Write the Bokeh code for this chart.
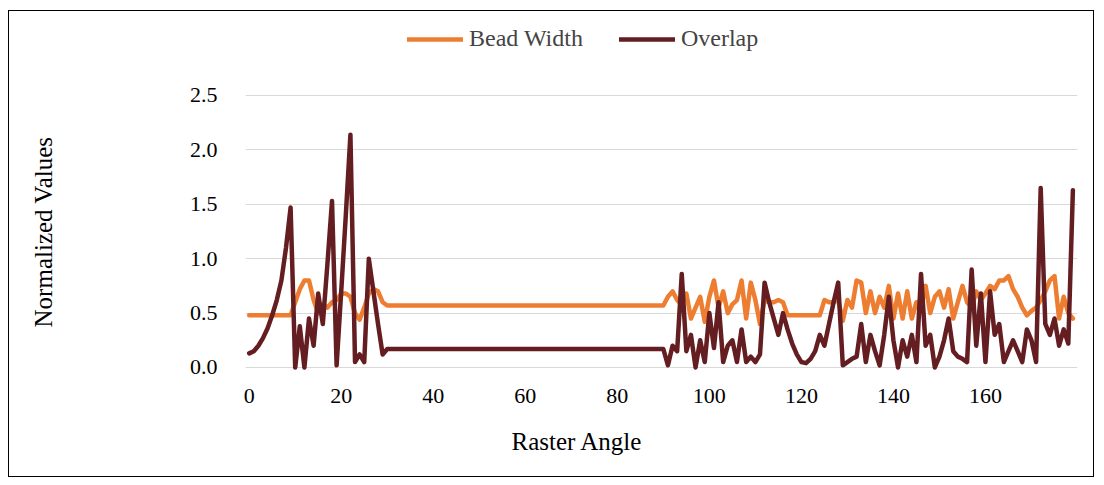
from bokeh.plotting import figure
from bokeh.models import Range1d, FixedTicker, Legend, LegendItem, NumeralTickFormatter, ColumnDataSource
from bokeh.embed import file_html
from bokeh.resources import INLINE

raster_angle = list(range(180))

bead_width = [
    0.48, 0.48, 0.48, 0.48, 0.48, 0.48, 0.48, 0.48, 0.48, 0.48,
    0.60, 0.72, 0.80, 0.80, 0.62, 0.50, 0.58, 0.55, 0.60, 0.62,
    0.68, 0.68, 0.65, 0.50, 0.44, 0.55, 0.68, 0.72, 0.70, 0.60,
    0.57, 0.57, 0.57, 0.57, 0.57, 0.57, 0.57, 0.57, 0.57, 0.57,
    0.57, 0.57, 0.57, 0.57, 0.57, 0.57, 0.57, 0.57, 0.57, 0.57,
    0.57, 0.57, 0.57, 0.57, 0.57, 0.57, 0.57, 0.57, 0.57, 0.57,
    0.57, 0.57, 0.57, 0.57, 0.57, 0.57, 0.57, 0.57, 0.57, 0.57,
    0.57, 0.57, 0.57, 0.57, 0.57, 0.57, 0.57, 0.57, 0.57, 0.57,
    0.57, 0.57, 0.57, 0.57, 0.57, 0.57, 0.57, 0.57, 0.57, 0.57,
    0.57, 0.65, 0.70, 0.62, 0.58, 0.68, 0.45, 0.55, 0.65, 0.42,
    0.65, 0.80, 0.55, 0.70, 0.50, 0.58, 0.62, 0.80, 0.45, 0.78,
    0.62, 0.40, 0.62, 0.60, 0.60, 0.62, 0.60, 0.48, 0.48, 0.48,
    0.48, 0.48, 0.48, 0.48, 0.48, 0.62, 0.60, 0.60, 0.62, 0.43,
    0.62, 0.55, 0.80, 0.78, 0.50, 0.70, 0.50, 0.65, 0.55, 0.75,
    0.45, 0.68, 0.45, 0.70, 0.45, 0.60, 0.55, 0.75, 0.50, 0.65,
    0.70, 0.55, 0.72, 0.45, 0.60, 0.75, 0.60, 0.55, 0.70, 0.62,
    0.68, 0.75, 0.72, 0.80, 0.80, 0.84, 0.72, 0.65, 0.55, 0.48,
    0.52, 0.55, 0.62, 0.70, 0.80, 0.84, 0.45, 0.65, 0.50, 0.45,
]

overlap = [
    0.13, 0.15, 0.20, 0.27, 0.36, 0.48, 0.62, 0.80, 1.10, 1.47,
    0.00, 0.38, 0.00, 0.45, 0.20, 0.68, 0.40, 0.95, 1.53, 0.02,
    0.70, 1.40, 2.14, 0.05, 0.12, 0.05, 1.00, 0.70, 0.40, 0.12,
    0.17, 0.17, 0.17, 0.17, 0.17, 0.17, 0.17, 0.17, 0.17, 0.17,
    0.17, 0.17, 0.17, 0.17, 0.17, 0.17, 0.17, 0.17, 0.17, 0.17,
    0.17, 0.17, 0.17, 0.17, 0.17, 0.17, 0.17, 0.17, 0.17, 0.17,
    0.17, 0.17, 0.17, 0.17, 0.17, 0.17, 0.17, 0.17, 0.17, 0.17,
    0.17, 0.17, 0.17, 0.17, 0.17, 0.17, 0.17, 0.17, 0.17, 0.17,
    0.17, 0.17, 0.17, 0.17, 0.17, 0.17, 0.17, 0.17, 0.17, 0.17,
    0.17, 0.02, 0.20, 0.15, 0.86, 0.15, 0.30, 0.00, 0.25, 0.05,
    0.50, 0.18, 0.60, 0.05, 0.20, 0.25, 0.05, 0.35, 0.05, 0.10,
    0.05, 0.12, 0.78, 0.60, 0.45, 0.30, 0.50, 0.35, 0.22, 0.12,
    0.05, 0.04, 0.08, 0.15, 0.30, 0.20, 0.40, 0.60, 0.78, 0.02,
    0.05, 0.08, 0.10, 0.40, 0.05, 0.30, 0.15, 0.02, 0.30, 0.65,
    0.25, 0.00, 0.25, 0.10, 0.30, 0.05, 0.86, 0.20, 0.30, 0.00,
    0.10, 0.25, 0.45, 0.15, 0.10, 0.08, 0.05, 0.90, 0.20, 0.68,
    0.05, 0.70, 0.30, 0.40, 0.05, 0.15, 0.25, 0.15, 0.05, 0.35,
    0.25, 0.05, 1.65, 0.40, 0.30, 0.45, 0.20, 0.35, 0.22, 1.63,
]

x_ticks = [0, 20, 40, 60, 80, 100, 120, 140, 160]
y_ticks = [0.0, 0.5, 1.0, 1.5, 2.0, 2.5]
series_names = ["Bead Width", "Overlap"]
series_colors = ["#ED7D31", "#641E22"]
x_title = "Raster Angle"
y_title = "Normalized Values"

FONT = "Liberation Serif"
NBSP = "\u00a0"

source = ColumnDataSource(dict(x=raster_angle, bw=bead_width, ov=overlap))

p = figure(width=1086, height=467, output_backend="svg", toolbar_location=None,
           x_range=Range1d(-0.8, 180.0), y_range=Range1d(-0.046, 3.226),
           min_border_left=236, min_border_right=18, min_border_top=5, min_border_bottom=106)
p.styles = {"border": "1px solid #000000", "margin-left": "8px", "margin-top": "10px"}
p.outline_line_color = None
p.background_fill_color = "white"
p.border_fill_color = "white"

r1 = p.line("x", "bw", source=source, line_color=series_colors[0], line_width=4.5, line_join="round", line_cap="round")
r2 = p.line("x", "ov", source=source, line_color=series_colors[1], line_width=4.5, line_join="round", line_cap="round")

p.xaxis.ticker = FixedTicker(ticks=x_ticks)
p.yaxis.ticker = FixedTicker(ticks=y_ticks)
p.yaxis.formatter = NumeralTickFormatter(format="0.0")
p.xgrid.grid_line_color = None
p.ygrid.grid_line_color = "#D9D9D9"
p.ygrid.grid_line_width = 1.2

for ax in (p.xaxis, p.yaxis):
    ax.axis_line_color = None
    ax.major_tick_line_color = None
    ax.minor_tick_line_color = None
    ax.major_label_text_font = FONT
    ax.major_label_text_font_size = "22px"
    ax.major_label_text_color = "#000000"
    ax.axis_label_text_font = FONT
    ax.axis_label_text_font_size = "25px"
    ax.axis_label_text_font_style = "normal"
    ax.axis_label_text_color = "#000000"

# trailing no-break spaces shift the visible titles to where the reference has them
p.xaxis.axis_label = x_title + NBSP * 27
p.yaxis.axis_label = y_title + NBSP * 12
p.xaxis.major_label_standoff = 10
p.xaxis.axis_label_standoff = 22
p.yaxis.major_label_standoff = 22
p.yaxis.axis_label_standoff = 130

legend = Legend(items=[LegendItem(label=series_names[0], renderers=[r1]),
                       LegendItem(label=series_names[1], renderers=[r2])],
                location=(162, 320), orientation="horizontal",
                border_line_color=None, background_fill_alpha=0,
                padding=0, margin=0, glyph_width=56, label_standoff=6, spacing=36,
                label_text_font=FONT, label_text_font_size="24px")
p.add_layout(legend, "center")

open("out.html", "w").write(file_html(p, INLINE))
